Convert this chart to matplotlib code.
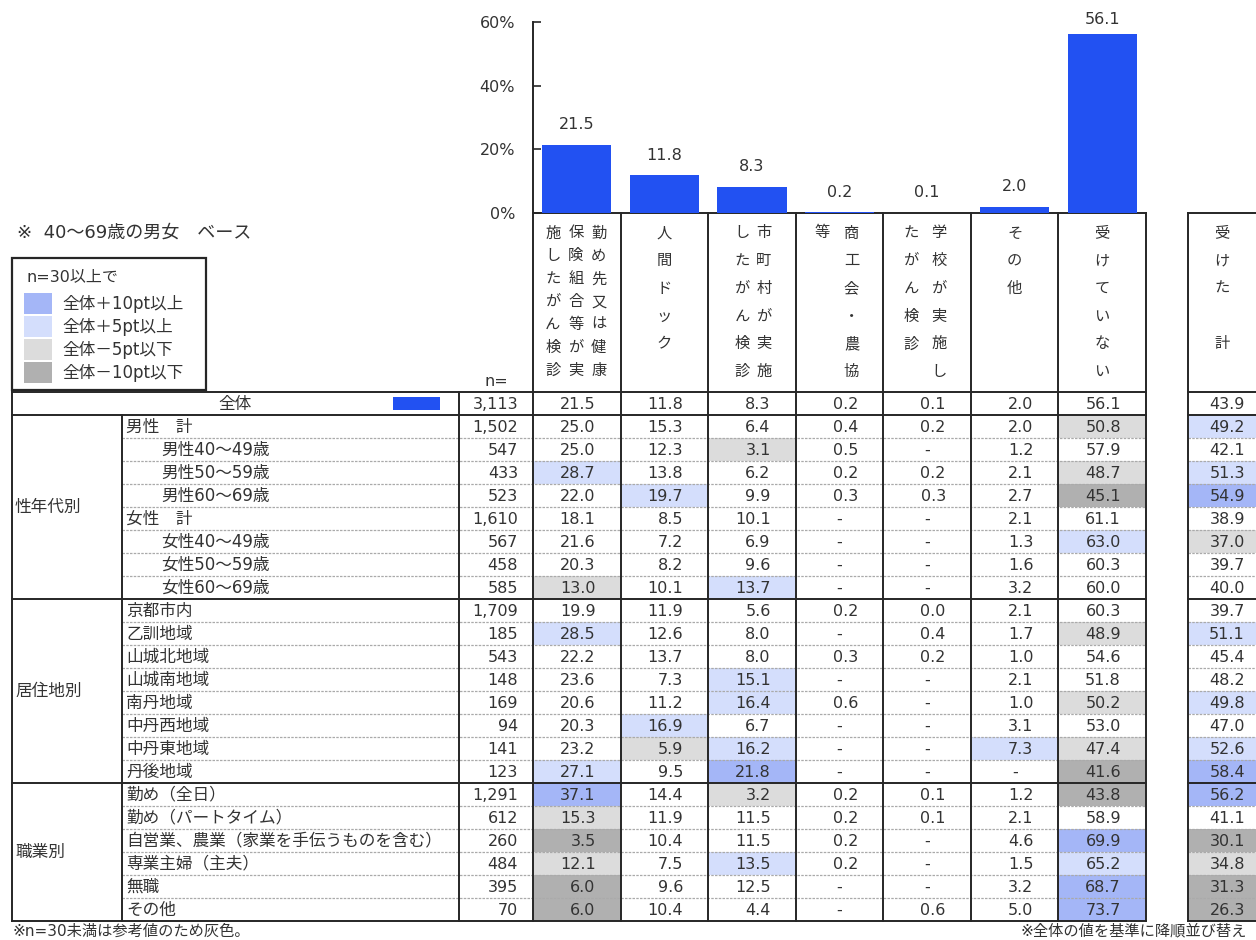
import matplotlib
matplotlib.use('Agg')
import matplotlib.pyplot as plt
from matplotlib.patches import Rectangle

plt.rcParams['font.family'] = ['DejaVu Sans', 'Noto Sans CJK JP']

# ---------------- data ----------------
categories = ['勤め先又は健康保険組合等が実施したがん検診', '人間ドック', '市町村が実施したがん検診',
              '商工会・農協等', '学校が実施したがん検診', 'その他', '受けていない']
overall_values = [21.5, 11.8, 8.3, 0.2, 0.1, 2.0, 56.1]
overall_received = 43.9
overall_n = 3113

# vertical header text lines (right to left) for each column
header_lines = [
    ['勤め先又は健康', '保険組合等が実', '施したがん検診'],
    ['人間ドック'],
    ['市町村が実施', 'したがん検診'],
    ['商工会・農協', '等'],
    ['学校が実施し', 'たがん検診'],
    ['その他'],
    ['受けていない'],
]
received_header = ['受けた　計']

groups = ['性年代別', '居住地別', '職業別']
group_sizes = [8, 8, 6]

row_labels = ['男性　計', '男性40～49歳', '男性50～59歳', '男性60～69歳',
              '女性　計', '女性40～49歳', '女性50～59歳', '女性60～69歳',
              '京都市内', '乙訓地域', '山城北地域', '山城南地域', '南丹地域', '中丹西地域', '中丹東地域', '丹後地域',
              '勤め（全日）', '勤め（パートタイム）', '自営業、農業（家業を手伝うものを含む）', '専業主婦（主夫）', '無職', 'その他']
row_indent = [0, 1, 1, 1, 0, 1, 1, 1] + [0] * 14
row_n = [1502, 547, 433, 523, 1610, 567, 458, 585,
         1709, 185, 543, 148, 169, 94, 141, 123,
         1291, 612, 260, 484, 395, 70]

col_workplace = [25.0, 25.0, 28.7, 22.0, 18.1, 21.6, 20.3, 13.0,
                 19.9, 28.5, 22.2, 23.6, 20.6, 20.3, 23.2, 27.1,
                 37.1, 15.3, 3.5, 12.1, 6.0, 6.0]
col_dock = [15.3, 12.3, 13.8, 19.7, 8.5, 7.2, 8.2, 10.1,
            11.9, 12.6, 13.7, 7.3, 11.2, 16.9, 5.9, 9.5,
            14.4, 11.9, 10.4, 7.5, 9.6, 10.4]
col_municipal = [6.4, 3.1, 6.2, 9.9, 10.1, 6.9, 9.6, 13.7,
                 5.6, 8.0, 8.0, 15.1, 16.4, 6.7, 16.2, 21.8,
                 3.2, 11.5, 11.5, 13.5, 12.5, 4.4]
col_commerce = [0.4, 0.5, 0.2, 0.3, None, None, None, None,
                0.2, None, 0.3, None, 0.6, None, None, None,
                0.2, 0.2, 0.2, 0.2, None, None]
col_school = [0.2, None, 0.2, 0.3, None, None, None, None,
              0.0, 0.4, 0.2, None, None, None, None, None,
              0.1, 0.1, None, None, None, 0.6]
col_other = [2.0, 1.2, 2.1, 2.7, 2.1, 1.3, 1.6, 3.2,
             2.1, 1.7, 1.0, 2.1, 1.0, 3.1, 7.3, None,
             1.2, 2.1, 4.6, 1.5, 3.2, 5.0]
col_none = [50.8, 57.9, 48.7, 45.1, 61.1, 63.0, 60.3, 60.0,
            60.3, 48.9, 54.6, 51.8, 50.2, 53.0, 47.4, 41.6,
            43.8, 58.9, 69.9, 65.2, 68.7, 73.7]
col_received = [49.2, 42.1, 51.3, 54.9, 38.9, 37.0, 39.7, 40.0,
                39.7, 51.1, 45.4, 48.2, 49.8, 47.0, 52.6, 58.4,
                56.2, 41.1, 30.1, 34.8, 31.3, 26.3]

legend_labels = ['全体＋10pt以上', '全体＋5pt以上', '全体－5pt以下', '全体－10pt以下']

# ---------------- style ----------------
BAR = '#2251F2'
TXT = '#333333'
LINE = '#262626'
C_DB, C_LB, C_LG, C_DG = '#A4B6F7', '#D4DEFC', '#DCDCDC', '#B0B0B0'
legend_colors = [C_DB, C_LB, C_LG, C_DG]

W, H = 1256, 940
fig = plt.figure(figsize=(W / 100, H / 100), dpi=100)
tab = fig.add_axes([0, 0, 1, 1])
tab.set_xlim(0, W)
tab.set_ylim(H, 0)
tab.axis('off')

X_LEFT, X_GRP, X_N, X_D0, X_D7 = 12, 122, 459, 533, 1146
X_R0, X_R1 = 1188, 1275
Y_HEAD_TOP, Y_TOP, ROW_H = 213, 392, 23.0
Y_BAR_TOP = 22
colw = (X_D7 - X_D0) / 7
cols_x = [X_D0 + i * colw for i in range(8)]
nrows = 1 + sum(group_sizes)
Y_BOT = Y_TOP + ROW_H * nrows

# ---------------- bar chart ----------------
bax = fig.add_axes([X_D0 / W, 1 - Y_HEAD_TOP / H, (X_D7 - X_D0) / W, (Y_HEAD_TOP - Y_BAR_TOP) / H])
bax.patch.set_alpha(0)
xs = list(range(len(categories)))
bax.bar(xs, overall_values, width=0.79, color=BAR, zorder=3)
bax.set_xlim(-0.5, len(categories) - 0.5)
bax.set_ylim(0, 60)
bax.set_yticks([0, 20, 40, 60])
bax.set_yticklabels(['0%', '20%', '40%', '60%'])
bax.set_xticks([])
bax.tick_params(axis='y', direction='in', length=6, width=1.2, color=LINE, pad=13,
                labelsize=11.5, labelcolor=TXT)
for s in ['top', 'right']:
    bax.spines[s].set_visible(False)
for s in ['left', 'bottom']:
    bax.spines[s].set_color(LINE)
    bax.spines[s].set_linewidth(1.4)
px_per_unit = (Y_HEAD_TOP - Y_BAR_TOP) / 60
for x, v in zip(xs, overall_values):
    ly = min(v + 20 / px_per_unit, 60 + 3 / px_per_unit)
    bax.text(x, ly, f'{v:.1f}', ha='center', va='center', fontsize=11.5, color=TXT, clip_on=False)

# ---------------- title & legend ----------------
tab.text(17, 233, '※  40～69歳の男女　ベース', fontsize=13, color=TXT, va='center', ha='left')
tab.add_patch(Rectangle((12, 258), 194, 132, fill=False, ec=LINE, lw=1.6))
tab.text(26, 277, 'n=30以上で', fontsize=11.5, color=TXT, va='center', ha='left')
for i, (lab, c) in enumerate(zip(legend_labels, legend_colors)):
    y0 = 293 + i * 23
    tab.add_patch(Rectangle((24, y0), 28, 21, color=c, lw=0))
    tab.text(62, y0 + 10.5, lab, fontsize=12, color=TXT, va='center', ha='left')

# ---------------- header ----------------
line_x_offsets = [[22, -1, -24], [0], [12, -10], [12, -17], [12, -16], [0], [0]]
for ci, lines in enumerate(header_lines):
    cx = (cols_x[ci] + cols_x[ci + 1]) / 2
    spacing = 22.9 if ci == 0 else 27.7
    for li, line in enumerate(lines):
        x = cx + line_x_offsets[ci][li]
        for k, ch in enumerate(line):
            tab.text(x, 233 + k * spacing, ch, fontsize=11, color=TXT, ha='center', va='center')
for li, line in enumerate(received_header):
    for k, ch in enumerate(line):
        tab.text(1222, 233 + k * 27.7, ch, fontsize=11, color=TXT, ha='center', va='center')
tab.text(484, 381, 'n=', fontsize=11.5, color=TXT, ha='left', va='center')

# ---------------- cells ----------------
data_cols = [col_workplace, col_dock, col_municipal, col_commerce, col_school, col_other, col_none]


def shade(v, base, n):
    if v is None or n < 30:
        return None
    d = round(v - base, 1)
    if d > 10:
        return C_DB
    if d > 5:
        return C_LB
    if d < -10:
        return C_DG
    if d < -5:
        return C_LG
    return None


def put_value(v, x0, x1, yc, right_x):
    if v is None:
        tab.text((x0 + x1) / 2, yc, '-', fontsize=11.5, color=TXT, ha='center', va='center')
    else:
        tab.text(right_x, yc, f'{v:.1f}', fontsize=11.5, color=TXT, ha='right', va='center')


# overall row
yc = Y_TOP + ROW_H / 2
tab.text(235, yc, '全体', fontsize=12, color=TXT, ha='center', va='center')
tab.add_patch(Rectangle((393, 397), 47, 13, color=BAR, lw=0))
tab.text(X_D0 - 15, yc + 1, f'{overall_n:,}', fontsize=11.5, color=TXT, ha='right', va='center')
for ci, v in enumerate(overall_values):
    put_value(v, cols_x[ci], cols_x[ci + 1], yc + 1, cols_x[ci + 1] - 25)
put_value(overall_received, X_R0, X_R1, yc + 1, 1245)

for r in range(len(row_labels)):
    y0 = Y_TOP + ROW_H * (r + 1)
    yc = y0 + ROW_H / 2
    n = row_n[r]
    for ci, col in enumerate(data_cols):
        c = shade(col[r], overall_values[ci], n)
        if c:
            tab.add_patch(Rectangle((cols_x[ci], y0), colw, ROW_H, color=c, lw=0, zorder=0))
        put_value(col[r], cols_x[ci], cols_x[ci + 1], yc + 1, cols_x[ci + 1] - 25)
    c = shade(col_received[r], overall_received, n)
    if c:
        tab.add_patch(Rectangle((X_R0, y0), X_R1 - X_R0, ROW_H, color=c, lw=0, zorder=0))
    put_value(col_received[r], X_R0, X_R1, yc + 1, 1245)
    tab.text(X_D0 - 15, yc + 1, f'{n:,}', fontsize=11.5, color=TXT, ha='right', va='center')
    lx = 161 if row_indent[r] else 126
    tab.text(lx, yc, row_labels[r], fontsize=12, color=TXT, ha='left', va='center')

# group labels
start = 1
for g, size in zip(groups, group_sizes):
    ya = Y_TOP + ROW_H * start
    yb = ya + ROW_H * size
    tab.text(15, (ya + yb) / 2, g, fontsize=12, color=TXT, ha='left', va='center')
    start += size

# ---------------- lines ----------------
DOT = dict(color='#AAAAAA', lw=0.9, ls=(0, (2, 1)), zorder=1)
SOL = dict(color=LINE, lw=1.4, zorder=2, solid_capstyle='projecting')

start = 1
for size in group_sizes:
    for k in range(1, size):
        y = Y_TOP + ROW_H * (start + k)
        tab.plot([X_GRP, X_D7], [y, y], **DOT)
        tab.plot([X_R0, X_R1], [y, y], **DOT)
    start += size

hlines = [Y_TOP, Y_TOP + ROW_H]
start = 1
for size in group_sizes:
    start += size
    hlines.append(Y_TOP + ROW_H * start)
for y in hlines:
    tab.plot([X_LEFT, X_D7], [y, y], **SOL)
    tab.plot([X_R0, X_R1], [y, y], **SOL)
tab.plot([X_R0, X_R1], [Y_HEAD_TOP, Y_HEAD_TOP], **SOL)

for x in [X_LEFT, X_N]:
    tab.plot([x, x], [Y_TOP, Y_BOT], **SOL)
tab.plot([X_GRP, X_GRP], [Y_TOP + ROW_H, Y_BOT], **SOL)
for x in cols_x:
    tab.plot([x, x], [Y_HEAD_TOP, Y_BOT], **SOL)
tab.plot([X_R0, X_R0], [Y_HEAD_TOP, Y_BOT], **SOL)

# ---------------- footnotes ----------------
tab.text(12, 931, '※n=30未満は参考値のため灰色。', fontsize=11, color=TXT, ha='left', va='center')
tab.text(1020, 931, '※全体の値を基準に降順並び替え', fontsize=11, color=TXT, ha='left', va='center')

fig.savefig('out.png', dpi=100)
